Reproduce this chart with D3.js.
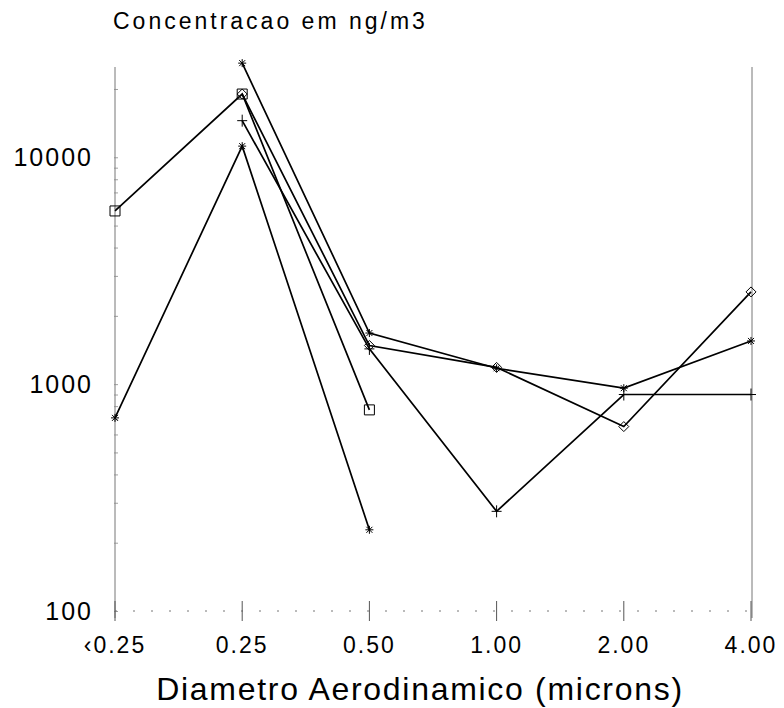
<!DOCTYPE html>
<html>
<head>
<meta charset="utf-8">
<script src="https://cdn.jsdelivr.net/npm/d3@7"></script>
<style>
  body { margin: 0; background: #fff; }
  text { font-family: "Liberation Sans", Arial, sans-serif; fill: #000; }
</style>
</head>
<body>
<div id="chart"></div>
<script>
// categories on the x axis
const categories = ["<0.25", "0.25", "0.50", "1.00", "2.00", "4.00"];
const xLabels = ["\u20390.25", "0.25", "0.50", "1.00", "2.00", "4.00"];
const yTicks = [100, 1000, 10000];

// series values (null = no value)
const squareSeries = [5800, 19000, 770, null, null, null];
const starLowSeries = [710, 11200, 228, null, null, null];
const starSeries = [null, 26000, 1680, 1175, 960, 1550];
const diamondSeries = [null, 19000, 1480, 1185, 650, 2550];
const plusSeries = [null, 14500, 1430, 275, 900, 900];

const series = [
    {name: "square", values: squareSeries, marker: "square"},
    {name: "starLow", values: starLowSeries, marker: "star"},
    {name: "star", values: starSeries, marker: "star"},
    {name: "diamond", values: diamondSeries, marker: "diamond"},
    {name: "plus", values: plusSeries, marker: "plus"}
];

const width = 784, height = 708;

const svg = d3.select("#chart").append("svg")
    .attr("width", width)
    .attr("height", height);

const x = d3.scalePoint()
    .domain(categories)
    .range([115, 751]);

const y = d3.scaleLog()
    .domain([100, 25000])
    .range([611, 67]);

// left and right frame lines
svg.append("line")
    .attr("x1", 115).attr("x2", 115)
    .attr("y1", y(25000)).attr("y2", 618)
    .attr("stroke", "#777").attr("stroke-width", 1);
svg.append("line")
    .attr("x1", 752).attr("x2", 752)
    .attr("y1", y(25000)).attr("y2", 618)
    .attr("stroke", "#777").attr("stroke-width", 1);

// dotted baseline
svg.append("line")
    .attr("x1", 115).attr("x2", 752)
    .attr("y1", y(100)).attr("y2", y(100))
    .attr("stroke", "#777").attr("stroke-width", 1)
    .attr("stroke-dasharray", "2,16");

// y axis ticks (major + minor)
const yAxis = d3.axisLeft(y)
    .tickValues(d3.range(2, 5).flatMap(e => d3.range(1, 10).map(m => m * Math.pow(10, e))).filter(v => v <= 25000))
    .tickSize(4)
    .tickFormat("");
svg.append("g")
    .attr("transform", "translate(118,0)")
    .call(yAxis)
    .call(g => g.select(".domain").remove())
    .call(g => g.selectAll("line").attr("stroke", "#888").attr("stroke-width", 0.8));

svg.selectAll(".ylab")
    .data(yTicks)
    .enter().append("text")
    .attr("class", "ylab")
    .attr("x", 93)
    .attr("y", d => y(d) + 9)
    .attr("text-anchor", "end")
    .style("font-size", "25px")
    .style("letter-spacing", "2px")
    .text(d => d);

// x axis ticks
svg.selectAll(".xtick")
    .data(categories)
    .enter().append("line")
    .attr("class", "xtick")
    .attr("x1", d => x(d)).attr("x2", d => x(d))
    .attr("y1", y(100) - 10).attr("y2", y(100) + 10)
    .attr("stroke", "#555").attr("stroke-width", 1);

svg.selectAll(".xlab")
    .data(categories)
    .enter().append("text")
    .attr("class", "xlab")
    .attr("x", d => x(d))
    .attr("y", 653)
    .attr("text-anchor", "middle")
    .style("font-size", "23px")
    .style("letter-spacing", "2px")
    .text((d, i) => xLabels[i]);

// titles
svg.append("text")
    .attr("x", 113)
    .attr("y", 29)
    .style("font-size", "23px")
    .style("letter-spacing", "3px")
    .text("Concentracao em ng/m3");

svg.append("text")
    .attr("x", 420)
    .attr("y", 700)
    .attr("text-anchor", "middle")
    .style("font-size", "32px")
    .style("letter-spacing", "1.7px")
    .text("Diametro Aerodinamico (microns)");

// lines
const line = d3.line()
    .defined(d => d.v != null)
    .x(d => x(d.c))
    .y(d => y(d.v));

const groups = svg.append("g")
    .selectAll("g")
    .data(series)
    .enter().append("g");

groups.append("path")
    .attr("d", s => line(s.values.map((v, i) => ({c: categories[i], v: v}))))
    .attr("fill", "none")
    .attr("stroke", "#000")
    .attr("stroke-width", 1.7);

const markerPath = {
    square: "M-5,-5H5V5H-5Z",
    diamond: "M0,-5L5,0L0,5L-5,0Z",
    plus: "M-5,0H5M0,-6V6",
    star: "M-4,0H4M0,-4V4M-3,-3L3,3M-3,3L3,-3"
};

groups.each(function (s) {
    d3.select(this).selectAll("path.mk")
        .data(s.values.map((v, i) => ({c: categories[i], v: v})).filter(d => d.v != null))
        .enter().append("path")
        .attr("class", "mk")
        .attr("transform", d => `translate(${x(d.c)},${y(d.v)})`)
        .attr("d", markerPath[s.marker])
        .attr("fill", "none")
        .attr("stroke", "#000")
        .attr("stroke-width", 1);
});
</script>
</body>
</html>
